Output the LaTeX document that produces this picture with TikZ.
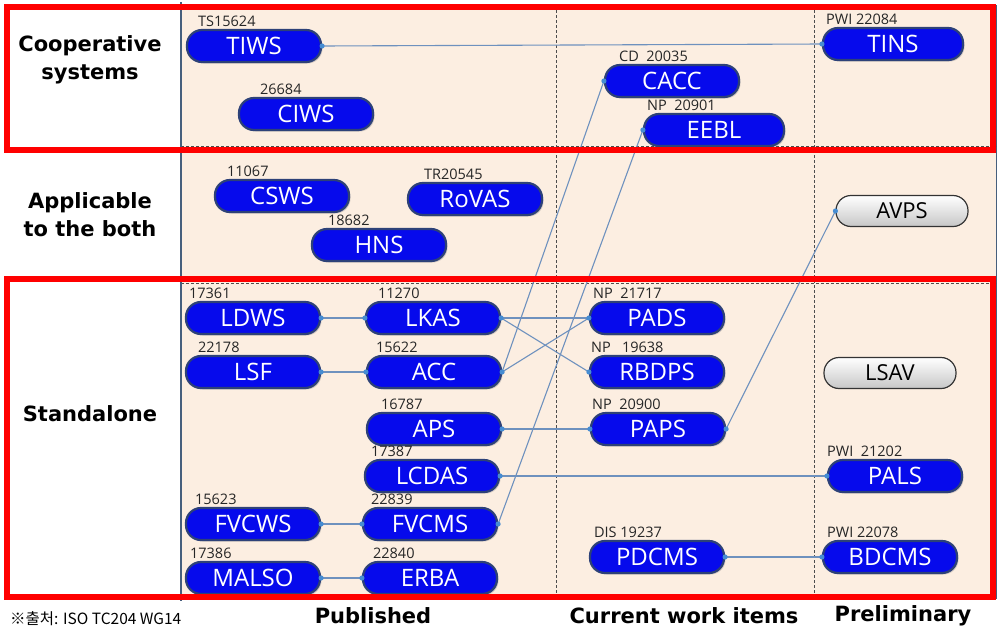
\documentclass[tikz,border=0pt]{standalone}
\usepackage{fontspec}
\setmainfont{Open Sans}
\newfontfamily\headfont{DejaVu Sans}
\newfontfamily\krfont{Noto Sans CJK KR}
\usepackage{tikz}
\usetikzlibrary{shadows,positioning,calc}
\definecolor{mybeige}{RGB}{252,238,225}
\definecolor{myblue}{RGB}{6,10,236}
\definecolor{myrim}{RGB}{45,65,120}
\definecolor{mylink}{RGB}{110,145,190}
\definecolor{mydot}{RGB}{70,140,210}
\definecolor{myframe}{RGB}{70,95,125}
\tikzstyle{item}=[draw=myrim,line width=2.2pt,fill=myblue,text=white,rounded corners=15pt,minimum width=134pt,minimum height=32pt,inner sep=0pt,font=\fontsize{24}{26}\selectfont,drop shadow={shadow xshift=1.5pt,shadow yshift=-1.5pt,opacity=0.35}]
\tikzstyle{idea}=[draw=black!80,line width=1.2pt,top color=white,bottom color=black!22,text=black,rounded corners=15pt,minimum width=132pt,minimum height=31pt,inner sep=0pt,font=\fontsize{22}{24}\selectfont]
\tikzstyle{num}=[anchor=south west,inner sep=0pt,text=black!85,font=\fontsize{14.5}{15}\selectfont]
\tikzstyle{link}=[draw=mylink,line width=1.1pt]
\tikzstyle{side}=[font=\headfont\bfseries\fontsize{21}{28}\selectfont,align=center]
\tikzstyle{stage}=[font=\headfont\bfseries\fontsize{21}{24}\selectfont]

\begin{document}
\begin{tikzpicture}[x=1pt,y=-1pt]
\useasboundingbox (0,0) rectangle (999,632);
% panel
\fill[mybeige] (181,5) rectangle (996,598);
\draw[myframe,line width=0.8pt] (181,5) rectangle (996,598);
\draw[black!70,line width=0.8pt,dash pattern=on 3pt off 2pt] (181,146) -- (996,146);
\draw[black!70,line width=0.8pt,dash pattern=on 3pt off 2pt] (181,283) -- (996,283);
\draw[black!70,line width=0.8pt,dash pattern=on 3pt off 2pt] (556,5) -- (556,598);
\draw[black!70,line width=0.8pt,dash pattern=on 3pt off 2pt] (814,5) -- (814,598);
\draw[myframe,line width=2.5pt] (181,2) -- (181,601);

% cooperative systems
\draw (254, 46) node [item] (tiws) {TIWS};
\draw (306,114) node [item] (ciws) {CIWS};
\draw (672, 81) node [item] (cacc) {CACC};
\draw (714,130) node [item,minimum width=140pt] (eebl) {EEBL};
\draw (893, 44) node [item,minimum width=140pt] (tins) {TINS};
% applicable to the both
\draw (282,196) node [item] (csws) {CSWS};
\draw (475,199) node [item] (rovas) {RoVAS};
\draw (379,245) node [item] (hns) {HNS};
\draw (902,211) node [idea] (avps) {AVPS};
% standalone
\draw (253,318) node [item] (ldws) {LDWS};
\draw (433,318) node [item] (lkas) {LKAS};
\draw (657,318) node [item] (pads) {PADS};
\draw (253,372) node [item] (lsf) {LSF};
\draw (434,372) node [item] (acc) {ACC};
\draw (657,372) node [item] (rbdps) {RBDPS};
\draw (890,373) node [idea] (lsav) {LSAV};
\draw (434,429) node [item] (aps) {APS};
\draw (658,429) node [item] (paps) {PAPS};
\draw (432,476) node [item] (lcdas) {LCDAS};
\draw (895,476) node [item] (pals) {PALS};
\draw (253,524) node [item] (fvcws) {FVCWS};
\draw (430,524) node [item] (fvcms) {FVCMS};
\draw (657,557) node [item] (pdcms) {PDCMS};
\draw (890,557) node [item] (bdcms) {BDCMS};
\draw (253,578) node [item] (malso) {MALSO};
\draw (430,578) node [item] (erba) {ERBA};

% document numbers
\node[num] (tiws-no) at ([xshift=12pt,yshift=2pt]tiws.north west) {TS15624};
\node[num] (ciws-no) at ([xshift=22pt,yshift=2pt]ciws.north west) {26684};
\node[num] (cacc-no) at ([xshift=15pt,yshift=2pt]cacc.north west) {CD\ \ 20035};
\node[num] (eebl-no) at ([xshift=4pt,yshift=2pt]eebl.north west) {NP\ \ 20901};
\node[num] (tins-no) at ([xshift=4pt,yshift=2pt]tins.north west) {PWI 22084};
\node[num] (csws-no) at ([xshift=13pt,yshift=2pt]csws.north west) {11067};
\node[num] (rovas-no) at ([xshift=17pt,yshift=2pt]rovas.north west) {TR20545};
\node[num] (hns-no) at ([xshift=17pt,yshift=2pt]hns.north west) {18682};
\node[num] (ldws-no) at ([xshift=4pt,yshift=2pt]ldws.north west) {17361};
\node[num] (lkas-no) at ([xshift=13pt,yshift=2pt]lkas.north west) {11270};
\node[num] (pads-no) at ([xshift=4pt,yshift=2pt]pads.north west) {NP\ \ 21717};
\node[num] (lsf-no) at ([xshift=13pt,yshift=2pt]lsf.north west) {22178};
\node[num] (acc-no) at ([xshift=10pt,yshift=2pt]acc.north west) {15622};
\node[num] (rbdps-no) at ([xshift=2pt,yshift=2pt]rbdps.north west) {NP\ \ \ 19638};
\node[num] (aps-no) at ([xshift=15pt,yshift=2pt]aps.north west) {16787};
\node[num] (paps-no) at ([xshift=2pt,yshift=2pt]paps.north west) {NP\ \ 20900};
\node[num] (lcdas-no) at ([xshift=7pt,yshift=2pt]lcdas.north west) {17387};
\node[num] (pals-no) at ([xshift=0pt,yshift=2pt]pals.north west) {PWI\ \ 21202};
\node[num] (fvcws-no) at ([xshift=10pt,yshift=2pt]fvcws.north west) {15623};
\node[num] (fvcms-no) at ([xshift=9pt,yshift=2pt]fvcms.north west) {22839};
\node[num] (pdcms-no) at ([xshift=5pt,yshift=2pt]pdcms.north west) {DIS 19237};
\node[num] (bdcms-no) at ([xshift=5pt,yshift=2pt]bdcms.north west) {PWI 22078};
\node[num] (malso-no) at ([xshift=5pt,yshift=2pt]malso.north west) {17386};
\node[num] (erba-no) at ([xshift=11pt,yshift=2pt]erba.north west) {22840};

% links
\draw[link] (tiws.east) -- (tins.west);
\draw[link] (acc.east) -- (cacc.west);
\draw[link] (fvcms.east) -- (eebl.west);
\draw[link] (ldws.east) -- (lkas.west);
\draw[link] (lkas.east) -- (pads.west);
\draw[link] (lkas.east) -- (rbdps.west);
\draw[link] (acc.east) -- (pads.west);
\draw[link] (lsf.east) -- (acc.west);
\draw[link] (aps.east) -- (paps.west);
\draw[link] (paps.east) -- (avps.west);
\draw[link] (lcdas.east) -- (pals.west);
\draw[link] (fvcws.east) -- (fvcms.west);
\draw[link] (malso.east) -- (erba.west);
\draw[link] (pdcms.east) -- (bdcms.west);
\foreach \p in {tiws.east,tins.west,acc.east,cacc.west,fvcms.east,eebl.west,
  ldws.east,lkas.west,lkas.east,pads.west,rbdps.west,lsf.east,acc.west,
  aps.east,paps.west,paps.east,avps.west,lcdas.east,pals.west,fvcws.east,
  fvcms.west,malso.east,erba.west,pdcms.east,bdcms.west}
  \fill[mydot] (\p) circle (2.6pt);

% frames and captions
\draw[red,line width=6pt] (7,7) rectangle (993,150);
\draw[red,line width=6pt] (7,279) rectangle (993,597);
\node[side] (coop) at (90,60) {Cooperative\\systems};
\node[side] (both) at (90,215) {Applicable\\to the both};
\node[side] (alone) at (90,414) {Standalone};
\node[stage] (pub) at (373,616) {Published};
\node[stage] (cur) at (684,616) {Current work items};
\node[stage] (pre) at (903,616) {Preliminary};
\node[anchor=west,inner sep=0pt,font=\krfont\fontsize{15.5}{16}\selectfont] (src) at (10,619) {※출처: ISO TC204 WG14};
\end{tikzpicture}
\end{document}
